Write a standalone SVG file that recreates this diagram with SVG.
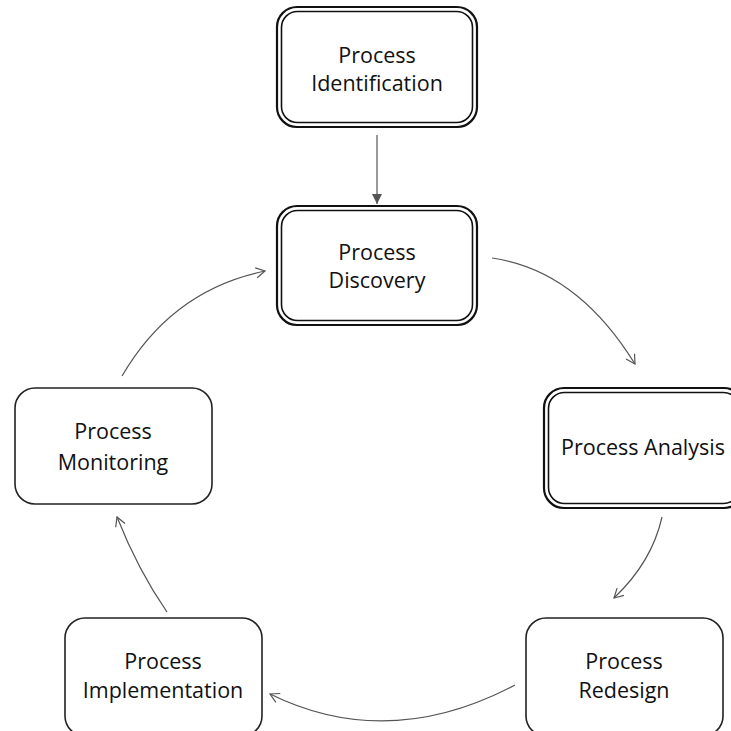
<svg xmlns="http://www.w3.org/2000/svg" width="731" height="731" viewBox="0 0 731 731">
<style>
.o{fill:#fff;stroke:#111;stroke-width:2.2}
.i{fill:none;stroke:#111;stroke-width:1.6}
.s{fill:#fff;stroke:#222;stroke-width:1.6}
text{font-family:"Open Sans","Liberation Sans",sans-serif;font-size:21.5px;fill:#111;text-anchor:middle}
.c{fill:none;stroke:#555;stroke-width:1.2}
</style>
<defs>
<marker id="oa" markerWidth="12" markerHeight="12" refX="10" refY="6" orient="auto" markerUnits="userSpaceOnUse">
<path d="M1,1 L10,6 L1,11" fill="none" stroke="#555" stroke-width="1.2"/>
</marker>
<marker id="fa" markerWidth="14" markerHeight="14" refX="10" refY="5" orient="auto" markerUnits="userSpaceOnUse">
<path d="M0,0 L10,5 L0,10 Z" fill="#555"/>
</marker>
</defs>
<g id="connectors">
<line class="c" x1="377" y1="135" x2="377" y2="204" marker-end="url(#fa)"/>
<path class="c" d="M492,258 Q577,270 635,364" marker-end="url(#oa)"/>
<path class="c" d="M662,517 Q652,562 614,598" marker-end="url(#oa)"/>
<path class="c" d="M515,685 Q388,752 270,694" marker-end="url(#oa)"/>
<path class="c" d="M167,612 Q138,570 117,517" marker-end="url(#oa)"/>
<path class="c" d="M122,376 Q172,290 265,271" marker-end="url(#oa)"/>
</g>
<g id="identification">
<rect class="o" x="277" y="7" width="200" height="120" rx="20"/>
<rect class="i" x="281.5" y="11.5" width="191" height="111" rx="16"/>
<text x="377" y="63">Process</text>
<text x="377" y="91">Identification</text>
</g>
<g id="discovery">
<rect class="o" x="277" y="206" width="200" height="119" rx="20"/>
<rect class="i" x="281.5" y="210.5" width="191" height="110" rx="16"/>
<text x="377" y="260">Process</text>
<text x="377" y="288">Discovery</text>
</g>
<g id="analysis">
<rect class="o" x="544" y="388" width="200" height="120" rx="20"/>
<rect class="i" x="548.5" y="392.5" width="191" height="111" rx="16"/>
<text x="643" y="455">Process Analysis</text>
</g>
<g id="monitoring">
<rect class="s" x="15" y="388" width="197" height="116" rx="20"/>
<text x="113" y="439">Process</text>
<text x="113" y="470">Monitoring</text>
</g>
<g id="implementation">
<rect class="s" x="65" y="618" width="197" height="118" rx="20"/>
<text x="163" y="669">Process</text>
<text x="163" y="698">Implementation</text>
</g>
<g id="redesign">
<rect class="s" x="526" y="618" width="197" height="118" rx="20"/>
<text x="624" y="669">Process</text>
<text x="624" y="698">Redesign</text>
</g>
</svg>
